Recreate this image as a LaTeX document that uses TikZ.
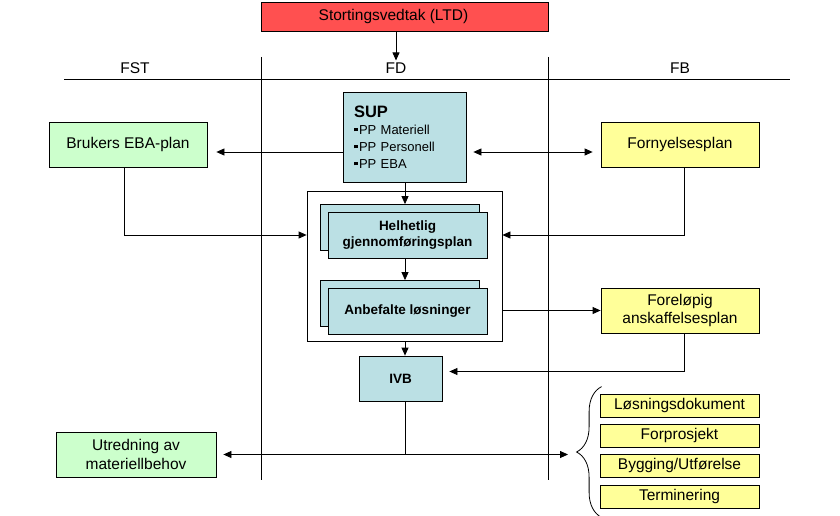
\documentclass[tikz,border=0pt]{standalone}
\usepackage{fontspec}
\setmainfont{Liberation Sans}
\usetikzlibrary{arrows.meta,decorations.pathreplacing}
\definecolor{ltdred}{RGB}{255,80,80}
\definecolor{fdblue}{RGB}{187,224,228}
\definecolor{fstgreen}{RGB}{204,255,204}
\definecolor{fbyellow}{RGB}{255,255,153}
\newcommand{\sqb}{\rule[3pt]{3.5pt}{3.5pt}\hspace{1.5pt}}
\begin{document}
\begin{tikzpicture}[x=1pt,y=-1pt]
\tikzstyle{box} = [draw,line width=0.8pt,inner sep=0pt,align=center,font=\fontsize{15.5}{18.5}\selectfont];
\tikzstyle{plan} = [box,font=\fontsize{13.5}{16}\selectfont\bfseries,fill=fdblue,minimum width=159,minimum height=46];
\tikzstyle{phase} = [box,fill=fbyellow,minimum width=159,minimum height=23];
\tikzstyle{column} = [font=\fontsize{15.5}{18}\selectfont];
\tikzstyle{flow} = [-{Triangle[length=8pt,width=7pt]},line width=0.8pt];
\tikzstyle{dflow} = [{Triangle[length=8pt,width=7pt]}-{Triangle[length=8pt,width=7pt]},line width=0.8pt];
\useasboundingbox [fill=white] (0,0) rectangle (840,516);

% columns
\draw [line width=0.8pt] (64,79) -- (790,79);
\draw [line width=0.8pt] (261,57) -- (261,480);
\draw [line width=0.8pt] (548,57) -- (548,480);
\node [column] (c1) at (135,68) {FST};
\node [column,inner sep=2pt] (c2) at (396,68) {FD};
\node [column] (c3) at (680,68) {FB};

\node [box,fill=ltdred,minimum width=287,minimum height=29] (v1) at (404.5,16.5) {Stortingsvedtak (LTD)\hspace{22pt}};
\node [box,fill=fstgreen,minimum width=158,minimum height=45] (v2) at (128,144.5) {Brukers EBA-plan};
\node [box,fill=fdblue,minimum width=123,minimum height=90,text width=101pt,align=left,font=\fontsize{13}{17}\selectfont] (v3) at (404.5,137)
  {{\fontsize{16.5}{17}\selectfont\bfseries SUP}\\\sqb PP Materiell\\\sqb PP Personell\\\sqb PP EBA};
\node [box,fill=fbyellow,minimum width=158,minimum height=45] (v4) at (680,144.5) {Fornyelsesplan};

\node [draw,line width=0.8pt,minimum width=195,minimum height=150] (v5) at (404.5,266) {};
\node [plan] (v6) at (400,227.5) {};
\node [plan] (v7) at (407.5,235) {Helhetlig\\gjennomføringsplan};
\node [plan] (v8) at (400,303.5) {};
\node [plan,minimum height=46] (v9) at (407.5,311) {Anbefalte løsninger};
\node [box,fill=fbyellow,minimum width=158,minimum height=45] (v10) at (680,310.5) {Foreløpig\\anskaffelsesplan};
\node [box,fill=fdblue,minimum width=83,minimum height=45,font=\fontsize{13.5}{16}\selectfont\bfseries] (v11) at (400.5,378.5) {IVB};
\node [box,fill=fstgreen,minimum width=160,minimum height=45] (v12) at (136,454.5) {Utredning av\\materiellbehov};

\node [phase] (v13) at (679.5,405.5) {Løsningsdokument};
\node [phase] (v14) at (679.5,435.5) {Forprosjekt};
\node [phase] (v15) at (679.5,465.5) {Bygging/Utførelse};
\node [phase] (v16) at (679.5,496.5) {Terminering};
\coordinate (v17) at (577,451);
\coordinate (v18) at (405,454.5);

\draw [decorate,decoration={brace,amplitude=25pt},line width=0.8pt] ([shift={(2,9)}]v16.south west) -- ([shift={(2,-7)}]v13.north west);

\draw [flow] (v1.south -| c2.north) -- (c2.north);
\draw [flow] (v3.west |- 0,152) -- ([xshift=9pt]v2.east |- 0,152);
\draw [dflow] ([xshift=7pt]v3.east |- 0,152) -- ([xshift=-8pt]v4.west |- 0,152);
\draw [flow] (v3.south -| 405,0) -- (v6.north -| 405,0);
\draw [flow] (v7.south -| 405,0) -- (v8.north -| 405,0);
\draw [flow] (v5.south -| 405,0) -- (v11.north -| 405,0);
\draw [flow] ([xshift=-4pt]v2.south) |- (v5.west |- 0,235);
\draw [flow] ([xshift=4pt]v4.south) |- (v5.east |- 0,235);
\draw [flow] (v5.east |- v10.west) -- (v10.west);
\draw [flow] ([xshift=4pt]v10.south) |- ([xshift=7pt]v11.east |- 0,371.5);
\draw [line width=0.8pt] (v11.south -| v18) -- (v18);
\draw [dflow,shorten >=9pt] ([xshift=7pt]v12.east) -- (v12.east -| v17);
\end{tikzpicture}
\end{document}
